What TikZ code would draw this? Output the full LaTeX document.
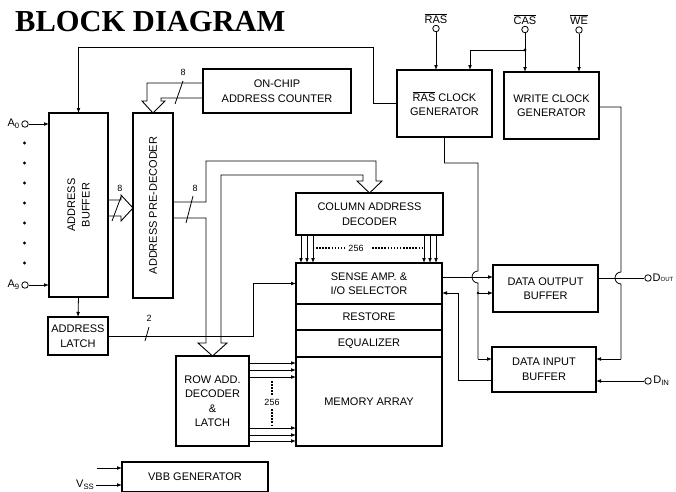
\documentclass[tikz,border=0pt]{standalone}
\usepackage{fontspec}
\setmainfont{Liberation Sans}
\newfontfamily\titlefont{Liberation Serif}
\usetikzlibrary{arrows.meta, positioning}
\newcommand\lbl{\fontsize{11}{14.5}\selectfont}
\newcommand\tagfont{\fontsize{9}{10}\selectfont}
\tikzset{
  box/.style={rectangle, draw, line width=1.8pt, outer sep=0pt,
    inner sep=1pt, align=center, font=\lbl},
  boxtext/.style={font=\lbl, align=center, inner sep=0pt},
  arr/.style={-{Latex[length=5pt,width=3.8pt]}, line width=0.8pt},
  line/.style={line width=0.8pt},
  bus/.style={line width=0.9pt, line join=miter},
  pin/.style={circle, draw, line width=0.8pt, fill=white,
    inner sep=0pt, minimum size=6.5pt},
  pinlabel/.style={font=\lbl, inner sep=1.5pt},
  tag/.style={font=\tagfont, inner sep=1pt},
  dotline/.style={line width=1.5pt, dash pattern=on 1.5pt off 1.6pt}
}

\begin{document}
\begin{tikzpicture}[x=1pt, y=-1pt]
  \useasboundingbox (0,0) rectangle (676,491);
  \node[anchor=base west, inner sep=0pt,
    font=\titlefont\bfseries\fontsize{30.5}{32}\selectfont] (title) at (15,31) {BLOCK DIAGRAM};

  % address path
  \node[box, minimum width=59pt, minimum height=184pt] (buf) at (78.5,205) {};
  \node[boxtext, rotate=90] (buftxt) at (buf.center) {ADDRESS\\BUFFER};
  \node[box, minimum width=60pt, minimum height=38pt] (latch) at (78,336) {ADDRESS\\LATCH};
  \node[box, minimum width=40pt, minimum height=185pt] (pre) at (153,205.5) {};
  \node[boxtext, rotate=90] (pretxt) at (pre.center) {ADDRESS PRE-DECODER};
  \node[box, minimum width=148pt, minimum height=44pt] (cnt) at (277,91) {ON-CHIP\\ADDRESS COUNTER};

  % clocks
  \node[box, minimum width=95pt, minimum height=67pt] (ras) at (444.5,103.5) {$\overline{\mbox{RAS}}$ CLOCK\\GENERATOR};
  \node[box, minimum width=95pt, minimum height=67pt] (wcg) at (551.5,105.5) {WRITE CLOCK\\GENERATOR};

  % array
  \node[box, minimum width=147pt, minimum height=42pt] (col) at (369.5,214) {COLUMN ADDRESS\\DECODER};
  \node[box, minimum width=146pt, minimum height=41pt] (sense) at (369,283.5) {SENSE AMP. \&\\I/O SELECTOR};
  \node[box, minimum width=146pt, minimum height=26pt, below=0pt of sense] (restore) {RESTORE};
  \node[box, minimum width=146pt, minimum height=27pt, below=0pt of restore] (equal) {EQUALIZER};
  \node[box, minimum width=146pt, minimum height=89pt, below=0pt of equal] (mem) {MEMORY ARRAY};
  \node[box, minimum width=73pt, minimum height=90pt] (row) at (212.5,401) {ROW ADD.\\DECODER\\\&\\LATCH};

  % data buffers
  \node[box, minimum width=105pt, minimum height=47pt] (dob) at (545.5,288.5) {DATA OUTPUT\\BUFFER};
  \node[box, minimum width=104pt, minimum height=45pt] (dib) at (544,369.5) {DATA INPUT\\BUFFER};
  \node[box, minimum width=146pt, minimum height=30pt] (vbb) at (195,477) {VBB GENERATOR};

  % pins
  \node[pin, label={[pinlabel]left:A\textsubscript{0}}] (a0) at (25,124) {};
  \node[pin, label={[pinlabel]left:A\textsubscript{9}}] (a9) at (25,285) {};
  \foreach \y in {143,163,...,263} \fill (24.5,\y) circle (1.6pt);
  \node[pin, label={[pinlabel]above:$\overline{\mbox{RAS}}$}] (rasin) at (436,28.5) {};
  \node[pin, label={[pinlabel]above:$\overline{\mbox{CAS}}$}] (casin) at (525,29.5) {};
  \node[pin, label={[pinlabel]above:$\overline{\mbox{WE}}$}] (wein) at (579,30) {};
  \node[pin, label={[pinlabel, inner sep=0.8pt]right:D{\fontsize{6}{7}\selectfont OUT}}] (dout) at (648,278) {};
  \node[pin, label={[pinlabel]right:D\textsubscript{IN}}] (din) at (648,381) {};
  \node[pinlabel, anchor=east] (vss) at (96,485) {V\textsubscript{SS}};
  \coordinate (vin) at (97,468);

  % inputs
  \draw[arr] (a0) -- (a0 -| buf.west);
  \draw[arr] (a9) -- (a9 -| buf.west);
  \draw[arr] (buf.south) -- (latch.north);
  \draw[arr] (rasin) -- (rasin |- ras.north);
  \draw[arr] (casin) -- (casin |- wcg.north);
  \draw[arr] (wein) -- (wein |- wcg.north);
  \coordinate (casj) at (525,50);
  \fill (casj) circle (1.6pt);
  \draw[arr] (casj) -| (470,70);
  \draw[arr] (vss.east) -- (vss.east -| vbb.west);
  \draw[arr] (vin) -- (vin -| vbb.west);

  % refresh feedback
  \draw[arr] (ras.west) -- ++(-24,0) -- ++(0,-56.5) -| (buf.north);

  % buses
  \draw[bus] (buf.east |- 0,200) -- (121,200) -- (121,195) -- (pre.west |- 0,208)
    -- (121,221) -- (121,216) -- (buf.east |- 0,216);
  \draw[line] (112,221) -- (121,197);
  \node[tag] (w8a) at (120,188) {8};
  \draw[bus] (cnt.west |- 0,83) -- (147,83) -- (147,101) -- (142,101) -- (pre.north)
    -- (165,101) -- (161,101) -- (161,98) -- (cnt.west |- 0,98);
  \draw[line] (175,104) -- (183,81);
  \node[tag] (w8b) at (183,72) {8};
  \draw[bus] (pre.east |- 0,202) -- (206,202) -- (206,161) -- (376,161) -- (376,181)
    -- (382,181) -- (col.north) -- (357,181) -- (363,181) -- (363,175) -- (221,175)
    -- (221,343) -- (227,343) -- (row.north) -- (198,343) -- (206,343) -- (206,218)
    -- (pre.east |- 0,218);
  \draw[line] (186,223) -- (193,196);
  \node[tag] (w8c) at (195,188) {8};

  % latch to sense amp
  \draw[arr] (latch.east) -- ++(145,0) |- (sense.west);
  \draw[line] (145,341) -- (149,327);
  \node[tag] (w2) at (149,318) {2};

  % decoder outputs
  \foreach \x in {301,307,313,424,430,436}
    \draw[arr] (\x,0 |- col.south) -- (\x,0 |- sense.north);
  \draw[dotline] (316,248) -- (345,248);
  \node[tag] (n256c) at (356,248) {256};
  \draw[dotline] (372,248) -- (422,248);
  \foreach \y in {363,370,377,428,435,441}
    \draw[arr] (row.east |- 0,\y) -- (mem.west |- 0,\y);
  \draw[dotline] (272,381) -- (272,396);
  \node[tag] (n256r) at (272,402) {256};
  \draw[dotline] (272,409) -- (272,426);

  % data paths
  \draw[arr] (sense.east |- 0,277) -- (dob.west |- 0,277);
  \draw[line] (ras.south) |- (478,163) -- (478,271)
    arc[start angle=90, end angle=270, radius=6pt] -- (478,359);
  \draw[arr] (478,359) -- (dib.west |- 0,359);
  \fill (478,293) circle (1.4pt);
  \draw[arr] (478,293) -- (dob.west |- 0,293);
  \draw[arr] (dib.west |- 0,380) -| (458,293) -- (sense.east |- 0,293);
  \draw[line] (wcg.east |- 0,107) -| (621,272)
    arc[start angle=90, end angle=270, radius=6pt] -- (621,359);
  \draw[arr] (621,359) -- (dib.east |- 0,359);
  \draw[line] (dob.east |- 0,278) -- (dout);
  \draw[arr] (din) -- (dib.east |- din);
\end{tikzpicture}
\end{document}
